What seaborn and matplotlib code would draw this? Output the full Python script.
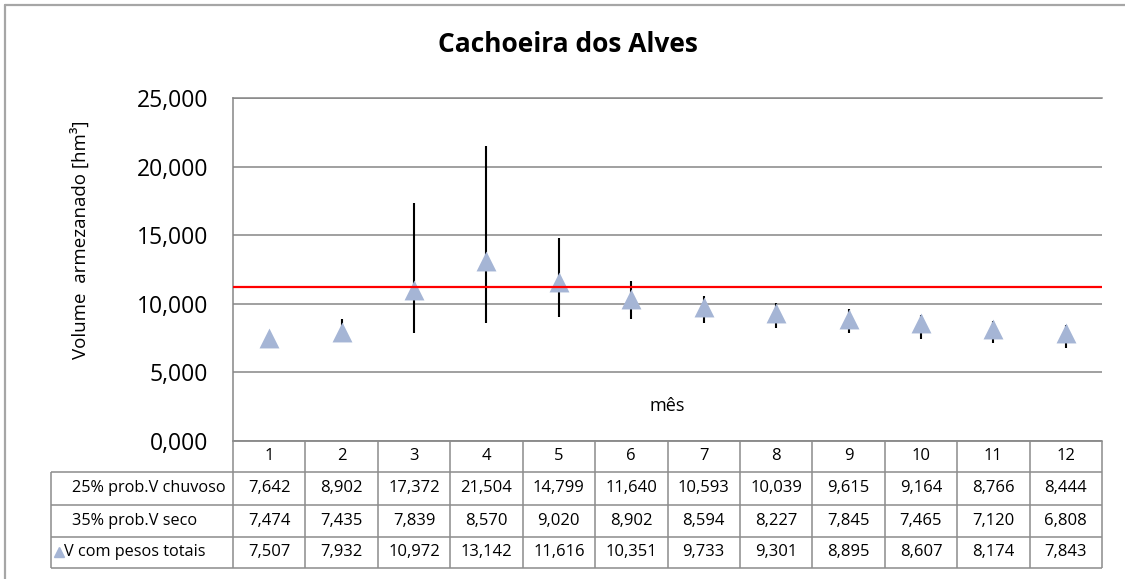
import matplotlib
matplotlib.use("Agg")
import matplotlib.pyplot as plt
from matplotlib.lines import Line2D
from matplotlib.ticker import FuncFormatter
import seaborn as sns

# --- data -------------------------------------------------------------
months = [1, 2, 3, 4, 5, 6, 7, 8, 9, 10, 11, 12]
v_chuvoso = [7.642, 8.902, 17.372, 21.504, 14.799, 11.640, 10.593, 10.039, 9.615, 9.164, 8.766, 8.444]
v_seco = [7.474, 7.435, 7.839, 8.570, 9.020, 8.902, 8.594, 8.227, 7.845, 7.465, 7.120, 6.808]
v_total = [7.507, 7.932, 10.972, 13.142, 11.616, 10.351, 9.733, 9.301, 8.895, 8.607, 8.174, 7.843]
reference_level = 11.25
row_labels = ["25% prob.V chuvoso", "35% prob.V seco", "V com pesos totais"]
title = "Cachoeira dos Alves"
y_label = "Volume  armezanado [hm³]"
x_label = "mês"

# --- style ------------------------------------------------------------
sns.set_theme(style="white")
plt.rcParams["font.family"] = ["Open Sans", "DejaVu Sans"]

TRI = "#A5B5D5"
GRID = "#868686"
TABLE_LINE = "#8C8C8C"

W, H = 1125, 579
fig = plt.figure(figsize=(W / 100, H / 100), dpi=100)
fig.patch.set_facecolor("white")


def fx(px):
    return px / W


def fy(py):
    return 1 - py / H


def fmt(v):
    return f"{v:.3f}".replace(".", ",")


# --- main plot --------------------------------------------------------
ax = fig.add_axes([fx(233), fy(441), fx(1102) - fx(233), fy(98) - fy(441)])
ax.set_facecolor("white")

ax.vlines(months, v_seco, v_chuvoso, color="black", lw=1.5, zorder=2)
sns.scatterplot(x=months, y=v_total, marker="^", s=205, color=TRI,
                linewidth=0, ax=ax, zorder=3, legend=False)
ax.axhline(reference_level, color="#FF0000", lw=1.6, zorder=4)

ax.set_xlim(0.5, 12.5)
ax.set_ylim(0, 25)
ax.set_yticks(range(0, 26, 5))
ax.set_xticks([])
ax.yaxis.set_major_formatter(FuncFormatter(lambda v, _: fmt(v)))
ax.yaxis.grid(True, color=GRID, lw=1.1)
ax.set_axisbelow(True)
ax.tick_params(axis="y", length=0, pad=18, labelsize=16.5, labelcolor="black")
for side in ["left", "bottom", "top"]:
    ax.spines[side].set_visible(True)
    ax.spines[side].set_color(GRID)
    ax.spines[side].set_linewidth(1.1)
ax.spines["right"].set_visible(False)
ax.set_xlabel("")
ax.set_ylabel("")

ax.text(0.5, 0.102, x_label, transform=ax.transAxes, ha="center", va="center",
        fontsize=13, color="black")

fig.text(fx(567.5), fy(45), title, ha="center", va="center",
         fontsize=19, fontweight="bold", color="black")
fig.text(fx(80), fy(240), y_label, rotation=90, ha="center", va="center",
         fontsize=13.5, color="black")

# --- data table under the plot ----------------------------------------
col_w = (1102 - 233) / 12
label_w = (233 - 50.7) / col_w
x0 = 0.5 - label_w
ax_t = fig.add_axes([fx(50.7), fy(568), fx(1102) - fx(50.7), fy(441) - fy(568)])
ax_t.set_xlim(x0, 12.5)
ax_t.set_ylim(127, 0)
ax_t.axis("off")

bounds = [0, 31, 64, 96, 127]
lkw = dict(color=TABLE_LINE, lw=1.1, clip_on=False)
ax_t.hlines(bounds[0], 0.5, 12.5, **lkw)
ax_t.hlines(bounds[1:], x0, 12.5, **lkw)
ax_t.vlines([m - 0.5 for m in months] + [12.5], bounds[0], bounds[-1], **lkw)
ax_t.vlines(x0, bounds[1], bounds[-1], **lkw)

tfs = 12
lfs = 11.7
for m in months:
    ax_t.text(m, (bounds[0] + bounds[1]) / 2, str(m), ha="center", va="center",
              fontsize=tfs, color="black")

rows = [v_chuvoso, v_seco, v_total]
for i, (lab, vals) in enumerate(zip(row_labels, rows)):
    yc = (bounds[i + 1] + bounds[i + 2]) / 2
    if i == 2:
        ax_t.plot([x0 + 8.0 / col_w], [yc - 1], marker="^", ms=7, color=TRI,
                  ls="none", clip_on=False)
        ax_t.text(x0 + 13 / col_w, yc, lab, ha="left", va="center",
                  fontsize=lfs, color="black")
    else:
        ax_t.text(x0 + 21 / col_w, yc, lab, ha="left", va="center",
                  fontsize=lfs, color="black")
    for m, v in zip(months, vals):
        ax_t.text(m, yc, fmt(v), ha="center", va="center", fontsize=tfs,
                  color="black")

# --- chart-area border ------------------------------------------------
fig.add_artist(Line2D([fx(5), fx(5)], [fy(5), 0], color="#A6A6A6", lw=1.6,
                      transform=fig.transFigure))
fig.add_artist(Line2D([fx(5), 1], [fy(5), fy(5)], color="#A6A6A6", lw=1.6,
                      transform=fig.transFigure))

fig.savefig("out.png", dpi=100, facecolor="white")
